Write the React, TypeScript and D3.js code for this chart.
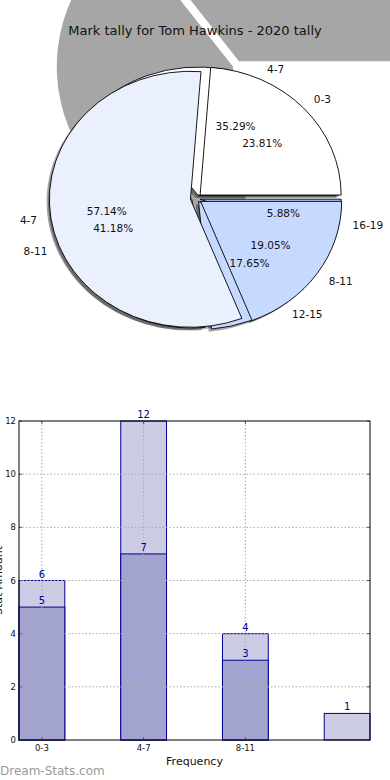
import * as d3 from 'd3'

const TITLE = 'Mark tally for Tom Hawkins - 2020 tally'

// first pie (drawn underneath)
const PIE_A_LABELS = ['4-7', '8-11', '12-15', '16-19']
const PIE_A_VALUES = [6, 7, 3, 1]
// second pie (drawn on top)
const PIE_B_LABELS = ['0-3', '4-7', '8-11']
const PIE_B_VALUES = [5, 12, 4]
const WEDGE_COLORS = ['#ffffff', '#eaf0fd', '#c6d9ff', '#a9c4f5']

// bar chart
const BAR_CATS = ['0-3', '4-7', '8-11', '12-15']
const BAR_TOTAL = [6, 12, 4, 1]
const BAR_PART = [5, 7, 3, 0]
const X_TICKS = [0, 1, 2]
const Y_TICKS = [0, 2, 4, 6, 8, 10, 12]

const FONT = 'DejaVu Sans, Verdana, sans-serif'

type Slice = d3.PieArcDatum<number>

const pieLayout = d3.pie<number>()
  .sort(null)
  .startAngle(Math.PI / 2)
  .endAngle(Math.PI / 2 - 2 * Math.PI)

const unitArc = d3.arc<Slice>().innerRadius(0).outerRadius(1)

// geometry of the pie block
const PIE = { cx: 196, cy: 198.5, rx: 141, ry: 128 }
const GHOST = { cx: 237, cy: 65, rx: 176, ry: 168 }
const SHADOW = { dx: -2.8, dy: 2.6 }

function dir(s: Slice) {
  const m = (s.startAngle + s.endAngle) / 2
  return { ux: Math.sin(m), uy: -Math.cos(m) }
}

function offset(s: Slice, g: { rx: number; ry: number }, e: number) {
  const { ux, uy } = dir(s)
  return { ox: e * g.rx * ux, oy: e * g.ry * uy }
}

function Wedges({ slices, geo, explode, fill, stroke, shift = { dx: 0, dy: 0 }, opacity = 1 }: any) {
  return (
    <g>
      {slices.map((s: Slice, i: number) => {
        const { ox, oy } = offset(s, geo, explode)
        return (
          <path
            key={i}
            d={unitArc(s) || ''}
            transform={`translate(${geo.cx + ox + shift.dx},${geo.cy + oy + shift.dy}) scale(${geo.rx},${geo.ry})`}
            fill={typeof fill === 'function' ? fill(i) : fill}
            fillOpacity={opacity}
            stroke={stroke || 'none'}
            strokeWidth={0.9}
            vectorEffect="non-scaling-stroke"
          />
        )
      })}
    </g>
  )
}

function PieLabels({ slices, labels, values, explode }: any) {
  const total = d3.sum(values as number[])
  return (
    <g fontFamily={FONT} fontSize={10.5} fill="#111">
      {slices.map((s: Slice, i: number) => {
        const { ux, uy } = dir(s)
        const { ox, oy } = offset(s, PIE, explode)
        const bx = PIE.cx + ox
        const by = PIE.cy + oy
        return (
          <g key={i}>
            <text
              x={bx + 1.1 * PIE.rx * ux}
              y={by + 1.1 * PIE.ry * uy}
              textAnchor={ux > 0 ? 'start' : 'end'}
              dominantBaseline="central"
            >
              {labels[i]}
            </text>
            <text
              x={bx + 0.6 * PIE.rx * ux}
              y={by + 0.6 * PIE.ry * uy}
              textAnchor="middle"
              dominantBaseline="central"
            >
              {((values[i] / total) * 100).toFixed(2) + '%'}
            </text>
          </g>
        )
      })}
    </g>
  )
}

function BarChart() {
  const margin = { left: 19, right: 370, top: 421, bottom: 740 }
  const x = d3.scaleLinear().domain([-0.225, 3.225]).range([margin.left, margin.right])
  const y = d3.scaleLinear().domain([0, 12]).range([margin.bottom, margin.top])
  const bw = x(0.45) - x(0)
  const navy = '#00008b'

  return (
    <g fontFamily={FONT}>
      {BAR_CATS.map((c, i) => (
        <g key={c}>
          <rect x={x(i) - bw / 2} y={y(BAR_TOTAL[i])} width={bw} height={y(0) - y(BAR_TOTAL[i])}
            fill="#ccccE5" stroke={navy} strokeWidth={1} />
          {BAR_PART[i] > 0 && (
            <rect x={x(i) - bw / 2} y={y(BAR_PART[i])} width={bw} height={y(0) - y(BAR_PART[i])}
              fill="#a3a3cf" stroke={navy} strokeWidth={1} />
          )}
        </g>
      ))}

      {/* grid drawn over bars */}
      <g stroke="#aaaaaa" strokeWidth={1} strokeDasharray="1.5,2">
        {Y_TICKS.filter(t => t > 0 && t < 12).map(t => (
          <line key={t} x1={margin.left} x2={margin.right} y1={y(t)} y2={y(t)} />
        ))}
        {X_TICKS.map(t => (
          <line key={t} x1={x(t)} x2={x(t)} y1={margin.top} y2={margin.bottom} />
        ))}
      </g>

      {/* value labels */}
      <g fill={navy} fontSize={10} textAnchor="middle">
        {BAR_CATS.map((c, i) => (
          <g key={c}>
            <text x={x(i)} y={y(BAR_TOTAL[i]) - 3}>{BAR_TOTAL[i]}</text>
            {BAR_PART[i] > 0 && <text x={x(i)} y={y(BAR_PART[i]) - 3}>{BAR_PART[i]}</text>}
          </g>
        ))}
      </g>

      {/* ticks */}
      <g stroke="#555" strokeWidth={1}>
        {Y_TICKS.map(t => (
          <g key={t}>
            <line x1={margin.left} x2={margin.left + 3} y1={y(t)} y2={y(t)} />
            <line x1={margin.right - 3} x2={margin.right} y1={y(t)} y2={y(t)} />
          </g>
        ))}
        {X_TICKS.map(t => (
          <g key={t}>
            <line x1={x(t)} x2={x(t)} y1={margin.bottom} y2={margin.bottom - 3} />
            <line x1={x(t)} x2={x(t)} y1={margin.top} y2={margin.top + 3} />
          </g>
        ))}
      </g>

      <rect x={margin.left} y={margin.top} width={margin.right - margin.left} height={margin.bottom - margin.top}
        fill="none" stroke="#000" strokeWidth={1} />

      <g fontSize={8.5} fill="#111">
        {Y_TICKS.map(t => (
          <text key={t} x={margin.left - 3} y={y(t)} textAnchor="end" dominantBaseline="central">{t}</text>
        ))}
        {X_TICKS.map(t => (
          <text key={t} x={x(t)} y={margin.bottom + 8} textAnchor="middle" dominantBaseline="central">{BAR_CATS[t]}</text>
        ))}
      </g>

      <text x={(margin.left + margin.right) / 2} y={margin.bottom + 21} textAnchor="middle"
        dominantBaseline="central" fontSize={11} fill="#111">Frequency</text>
      <text transform={`translate(-2,${(margin.top + margin.bottom) / 2}) rotate(-90)`} textAnchor="middle"
        dominantBaseline="central" fontSize={11} fill="#111">Stat Amount</text>
    </g>
  )
}

export default function App() {
  const slicesA = pieLayout(PIE_A_VALUES)
  const slicesB = pieLayout(PIE_B_VALUES)
  const eA = 0.03
  const eB = 0.04
  const colorOf = (i: number) => WEDGE_COLORS[i % WEDGE_COLORS.length]

  return (
    <svg width={390} height={780} style={{ position: 'absolute', left: 0, top: 0, background: '#fff' }}>
      <rect width={390} height={780} fill="#fff" />

      {/* large backdrop shadow behind the pie */}
      <Wedges slices={slicesA.slice(0, 2)} geo={GHOST} explode={0.025} fill="#000" opacity={0.35} />

      {/* shadows of both pies */}
      <Wedges slices={slicesA} geo={PIE} explode={eA} fill="#000" opacity={0.35} shift={SHADOW} />
      <Wedges slices={slicesB} geo={PIE} explode={eB} fill="#000" opacity={0.35} shift={SHADOW} />

      <Wedges slices={slicesA} geo={PIE} explode={eA} fill={colorOf} stroke="#000" />
      <Wedges slices={slicesB} geo={PIE} explode={eB} fill={colorOf} stroke="#000" />

      <PieLabels slices={slicesA} labels={PIE_A_LABELS} values={PIE_A_VALUES} explode={eA} />
      <PieLabels slices={slicesB} labels={PIE_B_LABELS} values={PIE_B_VALUES} explode={eB} />

      <text x={195} y={30} textAnchor="middle" dominantBaseline="central" fontFamily={FONT}
        fontSize={13} fill="#111">{TITLE}</text>

      <BarChart />

      <text x={0} y={771} dominantBaseline="central" fontFamily={FONT} fontSize={12}
        fill="#9a9a9a">Dream-Stats.com</text>
    </svg>
  )
}
